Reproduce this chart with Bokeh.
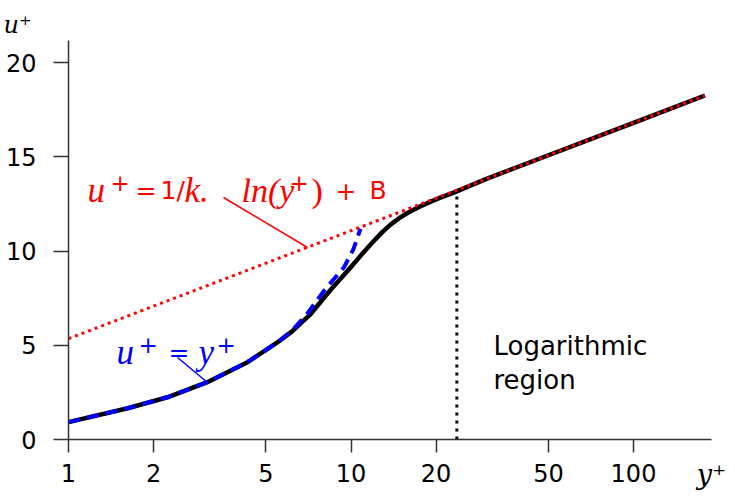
from bokeh.plotting import figure
from bokeh.models import Range1d, FixedTicker, Label, Title
from bokeh.embed import file_html
from bokeh.resources import INLINE

# ---------------- data ----------------
profile_y = [1.0, 1.62, 2.24, 3.1, 4.3, 5.5, 6.2, 7.21, 8.37, 9.98, 11.1, 12.0, 12.9, 13.8, 14.8,
             15.9, 17.2, 18.7, 20.5, 23.1, 30, 50, 100, 179]
profile_u = [0.92, 1.66, 2.24, 3.04, 4.1, 5.16, 5.75, 6.67, 7.85, 9.14, 9.95, 10.5, 11.0, 11.4, 11.74,
             12.03, 12.3, 12.55, 12.8, 13.1, 13.81, 15.08, 16.80, 18.25]

viscous_y = [1.0, 1.62, 2.24, 3.1, 4.3, 5.5, 6.2, 7.0, 8.03, 9.45, 10.2, 10.8]
viscous_u = [0.92, 1.66, 2.24, 3.04, 4.1, 5.16, 5.8, 6.67, 7.9, 9.14, 10.1, 11.18]

loglaw_y = [1.0, 179]
loglaw_u = [5.35, 18.25]

log_region_y = [23.7, 23.7]
log_region_u = [0.0, 13.15]

x_ticks = [1, 2, 5, 10, 20, 50, 100]
x_tick_labels = ["1", "2", "5", "10", "20", "50", "100"]
y_ticks = [0, 5, 10, 15, 20]

# ---------------- layout ----------------
FIG_W, FIG_H = 735, 496
FRAME_L, FRAME_R, FRAME_T, FRAME_B = 68, 711, 40, 439   # pixels
PX_DEC, PX_U = 282.5, 18.85                  # pixels per decade / per unit
frame_w = FRAME_R - FRAME_L
frame_h = FRAME_B - FRAME_T
x_end = 10 ** (frame_w / PX_DEC)
y_end = frame_h / PX_U


def at(px, py):
    """pixel -> data coordinates (for annotation placement)"""
    return 10 ** ((px - FRAME_L) / PX_DEC), (FRAME_B - py) / PX_U


p = figure(width=FIG_W, height=FIG_H, x_axis_type="log",
           x_range=Range1d(1, x_end), y_range=Range1d(0, y_end),
           output_backend="svg", toolbar_location=None,
           min_border_left=FRAME_L, min_border_right=FIG_W - FRAME_R,
           min_border_top=FRAME_T, min_border_bottom=FIG_H - FRAME_B)
p.outline_line_color = None
p.grid.visible = False
p.background_fill_color = "white"
p.border_fill_color = "white"

for ax in (p.xaxis, p.yaxis):
    ax.axis_line_color = "#333333"
    ax.axis_line_width = 1.5
    ax.major_tick_line_color = "#333333"
    ax.major_tick_line_width = 1.5
    ax.major_tick_in = 0
    ax.minor_tick_out = 0
    ax.minor_tick_in = 0
    ax.major_label_text_font = "DejaVu Sans"
    ax.major_label_text_font_size = "24px"
    ax.major_label_text_color = "black"

p.xaxis.ticker = FixedTicker(ticks=x_ticks, minor_ticks=[])
p.xaxis.major_label_overrides = {t: s for t, s in zip(x_ticks, x_tick_labels)}
p.xaxis.major_tick_out = 13
p.xaxis.major_label_standoff = 11

p.yaxis.ticker = FixedTicker(ticks=y_ticks, minor_ticks=[])
p.yaxis.major_tick_out = 15
p.yaxis.major_label_standoff = 17

# axis names
xa = p.xaxis[0]
xa.axis_label = "y⁺"
xa.axis_label_text_font = "DejaVu Serif"
xa.axis_label_text_font_style = "italic"
xa.axis_label_text_font_size = "27px"
xa.axis_label_text_color = "black"
xa.axis_label_standoff = -26
if "axis_label_align" in xa.properties():
    xa.axis_label_align = "end"

p.add_layout(Title(text="u⁺", align="left", offset=-65, standoff=0, vertical_align="top",
                   text_font="DejaVu Serif", text_font_style="italic",
                   text_font_size="24px", text_color="black"), "above")

# ---------------- marks ----------------
p.line(log_region_y, log_region_u, line_color="black", line_width=3, line_dash="3 5")
p.line(profile_y, profile_u, line_color="black", line_width=4.5, line_join="round")
p.line(viscous_y, viscous_u, line_color="#0000ff", line_width=4, line_dash="12 7")
p.line(loglaw_y, loglaw_u, line_color="#ff0000", line_width=3, line_dash="3 4")

# leader lines
rx0, ry0 = at(223, 197)
rx1, ry1 = at(307, 247)
p.line([rx0, rx1], [ry0, ry1], line_color="#ff0000", line_width=1.5)
bx0, by0 = at(177, 357)
bx1, by1 = at(207, 382)
p.line([bx0, bx1], [by0, by1], line_color="#0000ff", line_width=1.5)

# ---------------- texts ----------------
RED, BLUE = "#ff0000", "#0000ff"
MATH, SANS = "Liberation Serif", "DejaVu Sans"
texts = [
    ("u", 87, 190, MATH, "35px", "italic", RED),
    ("+", 110, 182, SANS, "23px", "normal", RED),
    ("=", 135, 190, SANS, "25px", "normal", RED),
    ("1/", 160, 190, SANS, "25px", "normal", RED),
    ("k.", 184, 190, MATH, "35px", "italic", RED),
    ("ln(y", 241, 190, MATH, "34px", "italic", RED),
    ("+", 289, 182, SANS, "23px", "normal", RED),
    (")", 311, 190, MATH, "34px", "normal", RED),
    ("+", 335, 190, SANS, "25px", "normal", RED),
    ("B", 369, 190, SANS, "25px", "normal", RED),
    ("u", 116, 352, MATH, "35px", "italic", BLUE),
    ("+", 138, 344, SANS, "23px", "normal", BLUE),
    ("=", 168, 352, SANS, "25px", "normal", BLUE),
    ("y", 198, 352, MATH, "35px", "italic", BLUE),
    ("+", 216, 344, SANS, "23px", "normal", BLUE),
    ("Logarithmic", 493, 345, SANS, "26px", "normal", "black"),
    ("region", 493, 379, SANS, "26px", "normal", "black"),
]
for txt, px, py, font, size, style, color in texts:
    lx, ly = at(px, py)
    p.add_layout(Label(x=lx, y=ly, text=txt, text_font=font, text_font_size=size,
                       text_font_style=style, text_color=color,
                       text_align="left", text_baseline="alphabetic"))

open("out.html", "w").write(file_html(p, INLINE))
